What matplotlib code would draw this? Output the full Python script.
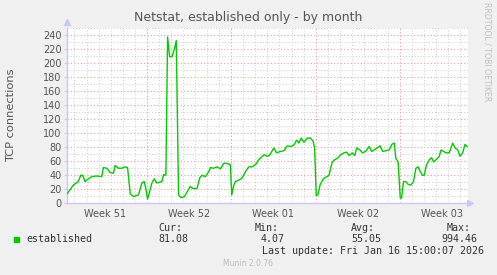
import matplotlib
matplotlib.use("Agg")
import matplotlib.pyplot as plt

# time in days from left edge of graph, value in connections
days = [
    0.03, 0.53, 0.94, 1.14, 1.30, 1.50, 1.77, 2.05, 2.47, 2.88, 3.02, 3.30, 3.57,
    3.85, 3.99, 4.27, 4.54, 4.82, 5.02, 5.24, 5.51, 5.93, 6.21, 6.40, 6.54, 6.68,
    6.84, 7.04, 7.23, 7.45, 7.68, 7.87, 8.01, 8.20, 8.34, 8.51, 8.70, 8.89, 9.06,
    9.25, 9.45, 9.73, 9.95, 10.22, 10.45, 10.78, 11.00, 11.19, 11.47, 11.75, 11.89,
    12.16, 12.44, 12.72, 13.00, 13.27, 13.55, 13.66, 13.83, 13.97, 14.24, 14.52,
    14.80, 15.07, 15.35, 15.63, 15.90, 16.18, 16.38, 16.60, 16.82, 17.15, 17.37,
    17.71, 17.98, 18.26, 18.54, 18.81, 19.04, 19.23, 19.42, 19.65, 19.92, 20.20,
    20.42, 20.53, 20.67, 20.81, 20.98, 21.25, 21.53, 21.73, 21.86, 22.00, 22.19,
    22.42, 22.69, 22.97, 23.19, 23.39, 23.66, 23.86, 24.02, 24.30, 24.49, 24.77,
    25.05, 25.27, 25.46, 25.74, 25.96, 26.18, 26.43, 26.71, 26.93, 27.13, 27.27,
    27.46, 27.63, 27.74, 27.90, 28.10, 28.29, 28.51, 28.73, 28.93, 29.12, 29.29,
    29.48, 29.62, 29.81, 30.04, 30.23, 30.40, 30.59, 30.87, 31.01, 31.23, 31.42,
    31.70, 31.98, 32.18, 32.40, 32.59, 32.81, 33.00, 33.17,
]
established = [
    14, 26, 31, 40, 40, 31, 35, 38, 39, 38, 51, 50, 44,
    43, 54, 50, 50, 52, 51, 14, 9.5, 12, 29, 31, 21, 6,
    16, 29, 35, 29, 30, 31, 41, 40, 237, 209, 209, 219, 232,
    12, 8, 9.5, 16, 24, 21, 21, 36, 40, 38, 45, 51,
    50, 52, 49, 57, 57, 55, 12, 26, 31, 33, 36,
    45, 52, 52, 55, 62, 67, 69, 67, 69, 79, 72,
    74, 75, 82, 81, 83, 90, 86, 93, 87, 93, 93,
    88, 79, 11, 12, 26, 35, 38, 40, 50, 59, 62,
    64, 69, 72, 73, 68, 72, 68, 79, 76, 72, 74,
    81, 74, 76, 79, 82, 74, 75, 76, 84, 86, 64,
    59, 8, 7, 31, 31, 27, 26, 31, 50, 52, 45,
    40, 40, 55, 62, 65, 59, 62, 67, 76, 74, 72,
    72, 86, 79, 76, 67, 72, 84, 81,
]

week_labels = ["Week 51", "Week 52", "Week 01", "Week 02", "Week 03"]
week_starts = [6.62, 13.62, 20.62, 27.62]
x_end = 33.25

stat_names = ["Cur:", "Min:", "Avg:", "Max:"]
stat_values = ["81.08", "4.07", "55.05", "994.46"]

W, H = 497, 275
fig = plt.figure(figsize=(W / 100, H / 100), dpi=100, facecolor="#f0f0f0")
ax = fig.add_axes([67 / W, (H - 203.3) / H, 401 / W, 175.3 / H])
ax.set_facecolor("white")
ax.set_xlim(0, x_end)
ax.set_ylim(0, 250)

axis_col = "#c8c8ff"
for s in ["top", "right"]:
    ax.spines[s].set_visible(False)
for s in ["left", "bottom"]:
    ax.spines[s].set_color(axis_col)
    ax.spines[s].set_linewidth(1)

red_grid = "#e8a0a0"
grey_grid = "#cccccc"

# grid
day = week_starts[0] - 6
while day < x_end:
    if any(abs(day - w) < 0.01 for w in week_starts):
        ax.axvline(day, color=red_grid, lw=0.8, ls=(0, (1, 2)), zorder=1)
    else:
        ax.axvline(day, color=grey_grid, lw=0.7, ls=(0, (1, 2)), zorder=1)
    day += 1

ax.set_yticks(range(0, 241, 20))
ax.set_yticks(range(10, 251, 20), minor=True)
ax.grid(which="major", axis="y", color=red_grid, lw=0.8, ls=(0, (1, 2)))
ax.grid(which="minor", axis="y", color=grey_grid, lw=0.7, ls=(0, (1, 2)))
ax.set_axisbelow(True)

label_pos = [w - 3.5 for w in week_starts] + [week_starts[-1] + 3.5]
ax.set_xticks(label_pos, week_labels)
ax.tick_params(axis="x", length=0, pad=4, labelsize=7, labelcolor="#555555")
ax.tick_params(axis="y", which="major", length=2, color=axis_col, pad=2,
               labelsize=7, labelcolor="#555555")
ax.tick_params(axis="y", which="minor", length=0)

ax.plot(days, established, color="#00cc00", lw=1, zorder=3)

# axis arrows
ax.plot([0], [1.035], marker="^", ms=4, color=axis_col, transform=ax.transAxes,
        clip_on=False)
ax.plot([1.005], [0], marker=">", ms=4, color=axis_col, transform=ax.transAxes,
        clip_on=False)

fig.text(11 / W, 1 - 115 / H, "TCP connections", rotation=90, fontsize=8.2,
         color="#555555", ha="center", va="center")
fig.text(248 / W, 1 - 18 / H, "Netstat, established only - by month",
         ha="center", va="center", fontsize=9, color="#555555")
fig.text(487 / W, 1 - 52 / H, "RRDTOOL / TOBI OETIKER", rotation=270,
         ha="center", va="center", fontsize=5.6, color="#c0c0c0")

mono = "DejaVu Sans Mono"
fig.add_artist(plt.Rectangle((14 / W, 1 - 242 / H), 5 / W, 5 / H,
                             transform=fig.transFigure, color="#00cc00"))
fig.text(26 / W, 1 - 239.5 / H, "established", family=mono, fontsize=7.2,
         color="#333333", va="center")
name_x = [158, 255, 351, 447]
val_x = [158, 261, 351, 441]
for nx, vx, n, v in zip(name_x, val_x, stat_names, stat_values):
    fig.text(nx / W, 1 - 228 / H, n, family=mono, fontsize=7.2,
             color="#333333", va="center")
    fig.text(vx / W, 1 - 239.5 / H, v, family=mono, fontsize=7.2,
             color="#333333", va="center")
fig.text(262 / W, 1 - 251.5 / H, "Last update: Fri Jan 16 15:00:07 2026",
         family=mono, fontsize=7.2, color="#333333", va="center")
fig.text(248 / W, 1 - 264 / H, "Munin 2.0.76", fontsize=5.5, color="#bbbbbb",
         ha="center", va="center")

fig.savefig("out.png", dpi=100, facecolor=fig.get_facecolor())
